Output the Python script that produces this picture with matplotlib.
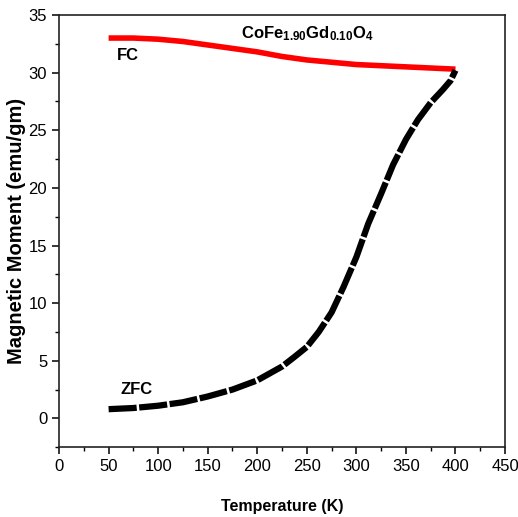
import matplotlib
matplotlib.use("Agg")
import matplotlib.pyplot as plt
from matplotlib.ticker import MultipleLocator

# ---------- data ----------
fc_temp = [50, 75, 100, 125, 150, 175, 200, 225, 250, 275, 300, 325, 350, 375, 400]
fc_moment = [33.0, 33.0, 32.9, 32.7, 32.4, 32.1, 31.8, 31.4, 31.1, 30.9, 30.7, 30.6, 30.5, 30.4, 30.3]

zfc_temp = [50, 75, 100, 125, 150, 175, 200, 225, 237, 250, 262, 275, 287, 300,
            312, 325, 337, 350, 362, 375, 387, 395, 400]
zfc_moment = [0.8, 0.9, 1.1, 1.4, 1.9, 2.5, 3.3, 4.5, 5.3, 6.2, 7.5, 9.2, 11.4, 14.0,
              16.9, 19.5, 22.0, 24.2, 25.9, 27.4, 28.5, 29.3, 30.2]

x_ticks = [0, 50, 100, 150, 200, 250, 300, 350, 400, 450]
y_ticks = [0, 5, 10, 15, 20, 25, 30, 35]

plt.rcParams["font.family"] = ["Liberation Sans", "DejaVu Sans"]
plt.rcParams["mathtext.fontset"] = "custom"
plt.rcParams["mathtext.rm"] = "Liberation Sans:bold"
plt.rcParams["mathtext.bf"] = "Liberation Sans:bold"
plt.rcParams["mathtext.default"] = "bf"

fig = plt.figure(figsize=(5.18, 5.17), dpi=100)
ax = fig.add_axes([0.114, 0.135, 0.861, 0.836])

ax.plot(fc_temp, fc_moment, color="#ff0000", linewidth=4, solid_capstyle="butt")
ax.plot(zfc_temp, zfc_moment, color="black", linewidth=4.5,
        linestyle=(0, (4.5, 0.4)), dash_capstyle="butt")

ax.text(69, 31.5, "FC", fontsize=12, fontweight="bold", ha="center", va="center")
ax.text(78, 2.5, "ZFC", fontsize=12, fontweight="bold", ha="center", va="center")
ax.text(250, 33.4, r"CoFe$_{1.90}$Gd$_{0.10}$O$_{4}$", fontsize=12,
        fontweight="bold", ha="center", va="center")

ax.set_xlim(0, 450)
ax.set_ylim(-2.5, 35)
ax.set_xticks(x_ticks)
ax.set_yticks(y_ticks)
ax.xaxis.set_minor_locator(MultipleLocator(25))
ax.yaxis.set_minor_locator(MultipleLocator(2.5))
ax.tick_params(which="major", direction="out", length=5, width=1.1, labelsize=12)
ax.tick_params(which="minor", direction="out", length=3, width=1.0)
for s in ax.spines.values():
    s.set_linewidth(1.2)
    s.set_color("#222222")

ax.set_xlabel("Temperature (K)", fontsize=11.5, fontweight="bold", labelpad=18)
ax.set_ylabel("Magnetic Moment (emu/gm)", fontsize=14.5, fontweight="bold", labelpad=2)

fig.savefig("out.png", dpi=100)
